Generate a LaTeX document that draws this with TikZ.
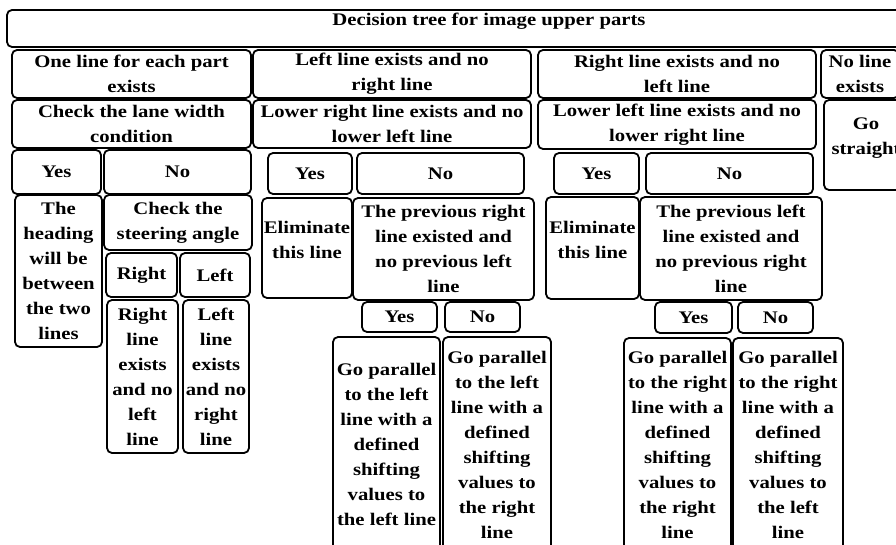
\documentclass[tikz,border=0pt]{standalone}
\usepackage{fontspec}
\setmainfont{Liberation Serif}[FakeStretch=1.17]
\begin{document}
\begin{tikzpicture}[x=1pt,y=-1pt,
    cell/.style={draw, line width=1.8pt, rounded corners=5pt, align=center, inner sep=1pt,
      font=\bfseries\fontsize{17.7}{25}\selectfont}]
            \useasboundingbox (0,0) rectangle (896,545);
            \clip (0,0) rectangle (896,545);
            \node [cell, minimum width=964pt, minimum height=37pt, text depth=19pt] (title) at (489,28.5) {Decision tree for image upper parts};
            \node [cell, minimum width=239pt, minimum height=48pt] (onePart) at (131.5,74) {One line for each part\\exists};
            \node [cell, minimum width=278pt, minimum height=48pt] (leftOnly) at (392,74) {Left line exists and no\\right line};
            \node [cell, minimum width=278pt, minimum height=48pt] (rightOnly) at (677,74) {Right line exists and no\\left line};
            \node [cell, minimum width=78pt, minimum height=48pt] (noLine) at (860,74) {No line\\exists};
            \node [cell, minimum width=239pt, minimum height=48pt] (laneWidth) at (131.5,124) {Check the lane width\\condition};
            \node [cell, minimum width=278pt, minimum height=48pt] (lowerRight) at (392,124) {Lower right line exists and no\\lower left line};
            \node [cell, minimum width=278pt, minimum height=49pt] (lowerLeft) at (677,124.5) {Lower left line exists and no\\lower right line};
            \node [cell, minimum width=84pt, minimum height=90pt] (goStraight) at (866,145) {Go\\straight\\[-7pt]\mbox{}};
            \node [cell, minimum width=89pt, minimum height=44pt] (yesA) at (56.5,172) {Yes};
            \node [cell, minimum width=147pt, minimum height=44pt] (noA) at (177.5,172) {No};
            \node [cell, minimum width=84pt, minimum height=41pt] (yesB) at (310,173.5) {Yes};
            \node [cell, minimum width=167pt, minimum height=41pt] (noB) at (440.5,173.5) {No};
            \node [cell, minimum width=85pt, minimum height=41pt] (yesC) at (596.5,173.5) {Yes};
            \node [cell, minimum width=167pt, minimum height=41pt] (noC) at (729.5,173.5) {No};
            \node [cell, minimum width=87pt, minimum height=152pt] (heading) at (58.5,271) {The\\heading\\will be\\between\\the two\\lines};
            \node [cell, minimum width=148pt, minimum height=55pt] (steering) at (178,222.5) {Check the\\steering angle};
            \node [cell, minimum width=71pt, minimum height=44pt] (steerRight) at (141.5,275) {Right};
            \node [cell, minimum width=70pt, minimum height=44pt] (steerLeft) at (215,275) {Left};
            \node [cell, minimum width=71pt, minimum height=153pt] (rightNoLeft) at (142.5,376.5) {Right\\line\\exists\\and no\\left\\line};
            \node [cell, minimum width=66pt, minimum height=153pt] (leftNoRight) at (216,376.5) {Left\\line\\exists\\and no\\right\\line};
            \node [cell, minimum width=90pt, minimum height=100pt] (elimB) at (307,248) {Eliminate\\this line\\[-9pt]\mbox{}};
            \node [cell, minimum width=181pt, minimum height=102pt] (prevRight) at (443.5,249) {The previous right\\line existed and\\no previous left\\line};
            \node [cell, minimum width=75pt, minimum height=30pt] (yesB2) at (399.5,317) {Yes};
            \node [cell, minimum width=75pt, minimum height=30pt] (noB2) at (482.5,317) {No};
            \node [cell, minimum width=107pt, minimum height=215pt] (parLL) at (386.5,444.5) {Go parallel\\to the left\\line with a\\defined\\shifting\\values to\\the left line};
            \node [cell, minimum width=108pt, minimum height=215pt] (parLR) at (497,444.5) {Go parallel\\to the left\\line with a\\defined\\shifting\\values to\\the right\\line};
            \node [cell, minimum width=93pt, minimum height=102pt] (elimC) at (592.5,248) {Eliminate\\this line\\[-9pt]\mbox{}};
            \node [cell, minimum width=182pt, minimum height=103pt] (prevLeft) at (731,248.5) {The previous left\\line existed and\\no previous right\\line};
            \node [cell, minimum width=77pt, minimum height=31pt] (yesC2) at (693.5,317.5) {Yes};
            \node [cell, minimum width=75pt, minimum height=31pt] (noC2) at (775.5,317.5) {No};
            \node [cell, minimum width=107pt, minimum height=214pt] (parRR) at (677.5,445) {Go parallel\\to the right\\line with a\\defined\\shifting\\values to\\the right\\line};
            \node [cell, minimum width=110pt, minimum height=214pt] (parRL) at (788,445) {Go parallel\\to the right\\line with a\\defined\\shifting\\values to\\the left\\line};
        \end{tikzpicture}
\end{document}
